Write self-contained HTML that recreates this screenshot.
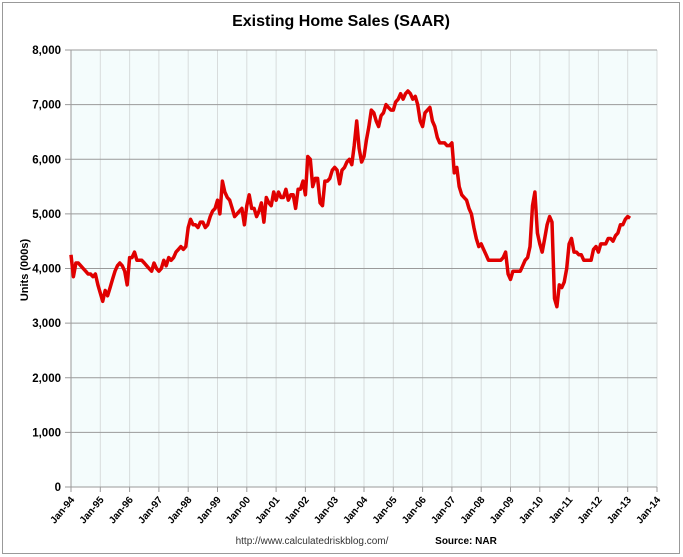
<!DOCTYPE html>
<html><head><meta charset="utf-8"><style>
body{margin:0;background:#fff;}
svg{display:block;font-family:"Liberation Sans",sans-serif;}
</style></head><body>
<svg id="s" width="683" height="557" xmlns="http://www.w3.org/2000/svg">
<rect x="2.5" y="2.5" width="677" height="551" fill="#fff" stroke="#999" stroke-width="1"/>
<text x="341" y="26" text-anchor="middle" font-size="16" font-weight="bold" font-family="Liberation Sans Narrow, Liberation Sans, sans-serif">Existing Home Sales (SAAR)</text>
<rect x="71" y="50" width="586" height="437" fill="#f4fcfc"/>
<g id="grid"></g>
<text transform="translate(28,270) rotate(-90)" text-anchor="middle" font-size="11" font-weight="bold">Units (000s)</text>
<text x="312" y="544" text-anchor="middle" font-size="10" fill="#333">http://www.calculatedriskblog.com/</text>
<text x="466" y="544" text-anchor="middle" font-size="10" font-weight="bold">Source: NAR</text>
<path id="line" fill="none" stroke="#e00000" stroke-width="3.5" stroke-linejoin="round"/>
</svg>
<script>
var X0=71,X1=657,Y0=487,Y1=50,ns="http://www.w3.org/2000/svg";
function yv(v){return Y0-(v/8000)*(Y0-Y1);}
function xm(m){return X0+m*(X1-X0)/240;}
var g=document.getElementById('grid'),h='';
for(var i=1;i<=20;i++){var x=xm(i*12);h+='<line x1="'+x+'" y1="50" x2="'+x+'" y2="487" stroke="#d8dcdc" stroke-width="1"/>';}
for(var k=0;k<=8;k++){var y=yv(k*1000);h+='<line x1="65" y1="'+y+'" x2="657" y2="'+y+'" stroke="#9a9a9a" stroke-width="1"/>';
h+='<text x="61" y="'+(y+4)+'" text-anchor="end" font-size="11.5" font-weight="bold">'+(k?k+',000':'0')+'</text>';}
h+='<line x1="71" y1="50" x2="71" y2="492" stroke="#9a9a9a"/>';
for(var i=0;i<=20;i++){var x=xm(i*12);var yr=(94+i)%100;var s=(yr<10?'0':'')+yr;
h+='<line x1="'+x+'" y1="487" x2="'+x+'" y2="492" stroke="#9a9a9a"/>';
h+='<text transform="translate('+(x+4)+',500) rotate(-50)" text-anchor="end" font-size="10" font-weight="bold">Jan-'+s+'</text>';}
g.innerHTML=h;
var d=[4250,3850,4100,4100,4050,4000,3950,3900,3900,3850,3900,3700,
3550,3400,3600,3500,3650,3800,3950,4050,4100,4050,3950,3700,
4200,4200,4300,4150,4150,4150,4100,4050,4000,3950,4100,4000,
3950,4000,4150,4050,4200,4150,4200,4300,4350,4400,4350,4400,
4750,4900,4800,4800,4750,4850,4850,4750,4800,4950,5050,5100,
5250,5000,5600,5400,5300,5250,5100,4950,5000,5050,5100,4800,
5150,5350,5100,5100,4950,5050,5200,4850,5300,5200,5150,5400,
5250,5400,5300,5300,5450,5250,5350,5350,5100,5450,5450,5600,
5350,6050,6000,5500,5650,5650,5200,5150,5600,5600,5650,5800,
5850,5800,5550,5800,5850,5950,6000,5900,6250,6700,6200,5950,
6050,6350,6600,6900,6850,6700,6600,6800,6850,7000,6950,6900,
6900,7050,7100,7200,7100,7200,7250,7200,7100,7150,7000,6700,
6600,6850,6900,6950,6700,6600,6400,6300,6300,6300,6250,6250,
6300,5750,5850,5500,5350,5300,5250,5100,5000,4750,4550,4400,
4450,4350,4250,4150,4150,4150,4150,4150,4150,4200,4300,3900,
3800,3950,3950,3950,3950,4050,4150,4200,4400,5150,5400,4650,
4450,4300,4550,4800,4950,4850,3450,3300,3700,3650,3750,4000,
4450,4550,4300,4300,4250,4250,4150,4150,4150,4150,4350,4400,
4300,4450,4450,4450,4550,4550,4500,4600,4650,4800,4800,4900,
4950,4920];
var p='';for(var i=0;i<d.length;i++){p+=(i?'L':'M')+xm(i).toFixed(1)+' '+yv(d[i]).toFixed(1);}
document.getElementById('line').setAttribute('d',p);
</script>
</body></html>
